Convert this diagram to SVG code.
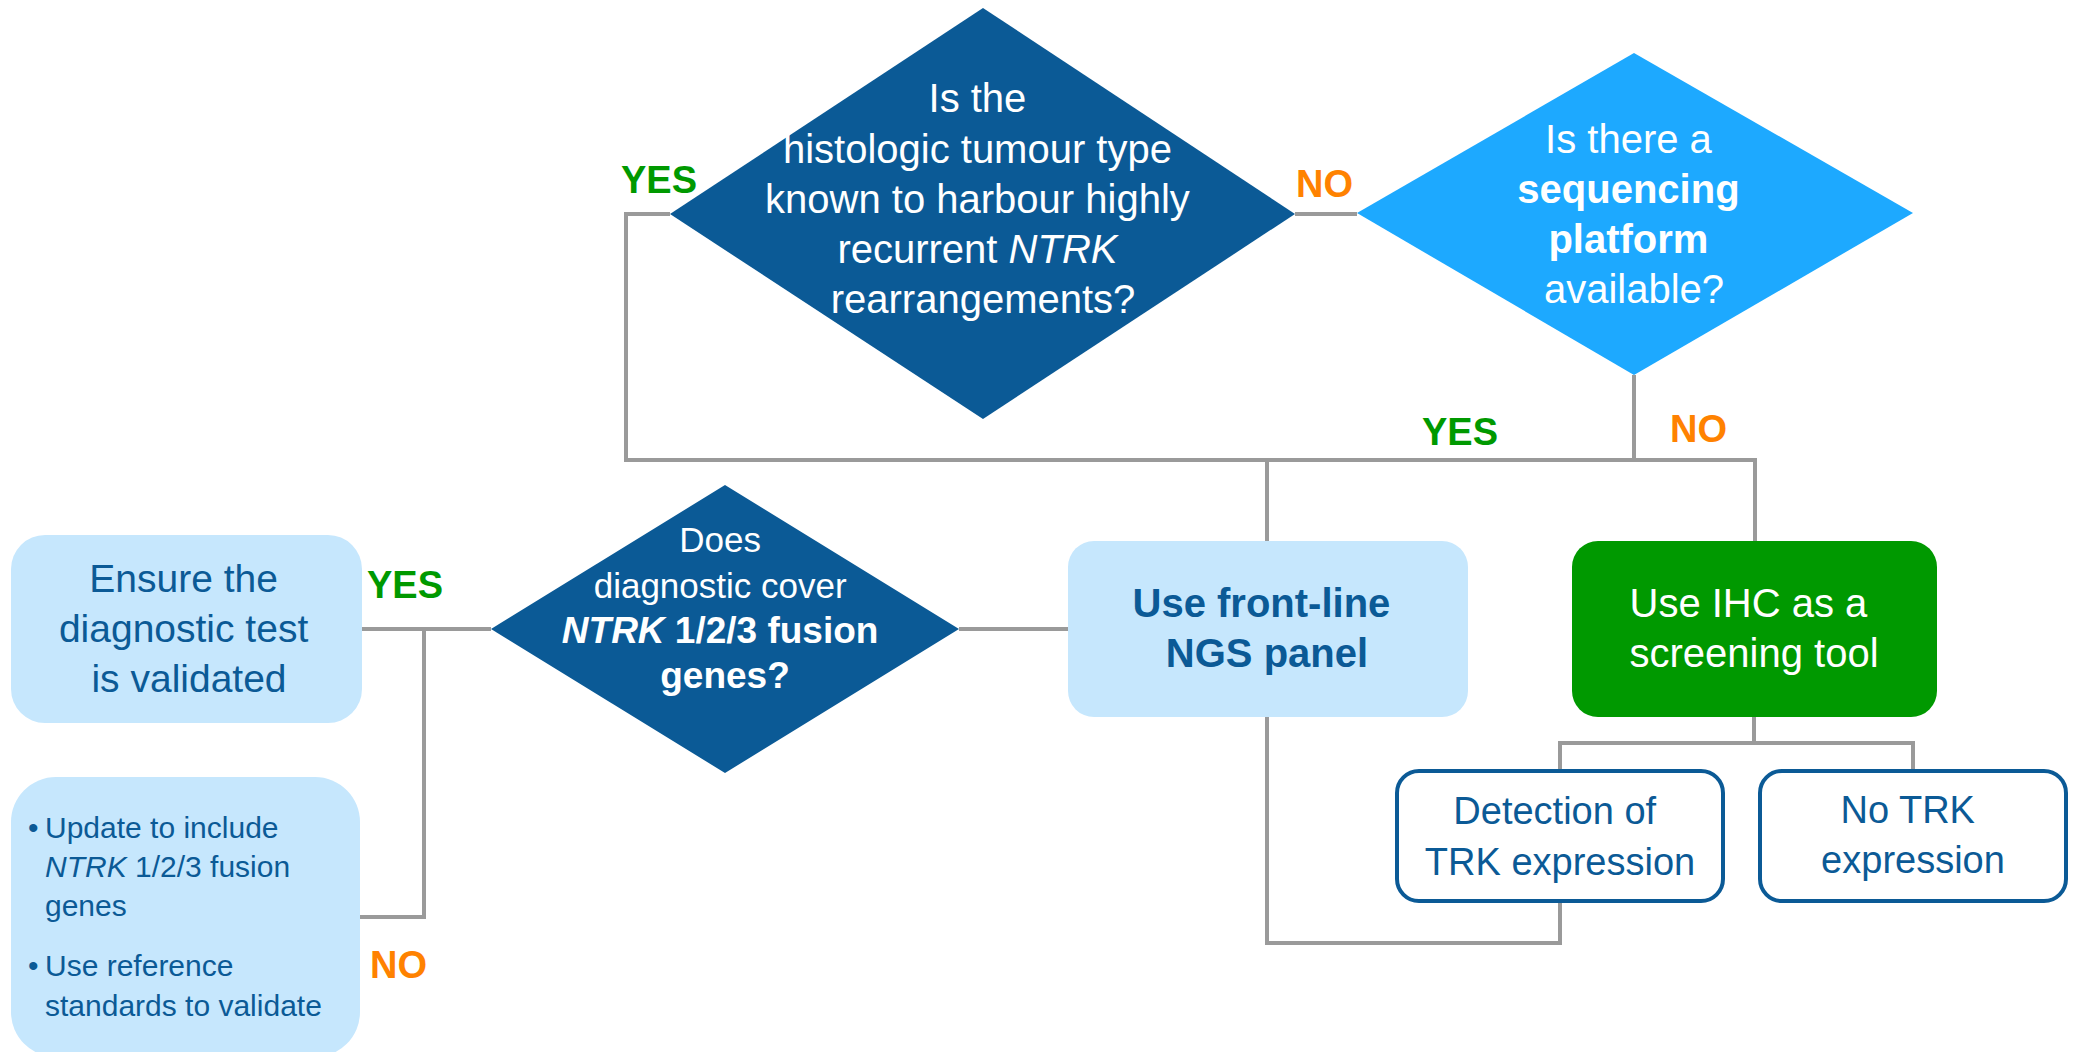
<svg xmlns="http://www.w3.org/2000/svg" width="2080" height="1052" viewBox="0 0 2080 1052">
<style>
.t{font-family:"Liberation Sans",Arial,sans-serif;}
.w{fill:#ffffff;}
.d{fill:#0B5A96;}
.b{font-weight:bold;}
.i{font-style:italic;}
.yes{font-family:"Liberation Sans",Arial,sans-serif;font-weight:bold;font-size:38px;fill:#009900;}
.no{font-family:"Liberation Sans",Arial,sans-serif;font-weight:bold;font-size:38px;fill:#FF8200;}
.ln{fill:none;stroke:#9A9A9A;stroke-width:4;}
</style>
<rect width="2080" height="1052" fill="#ffffff"/>
<g id="connectors" class="ln">
<path d="M670,214 H626 V460 H1634"/>
<path d="M1295,214 H1357"/>
<path d="M1634,375 V460 H1755 V541"/>
<path d="M1267,460 V541"/>
<path d="M491,629 H362"/>
<path d="M424,629 V917 H360"/>
<path d="M959,629 H1068"/>
<path d="M1754,717 V743"/>
<path d="M1560,770 V743 H1913 V769"/>
<path d="M1267,717 V943 H1560 V902"/>
</g>
<g id="labels">
<text class="yes" x="621" y="193">YES</text>
<text class="no" x="1296" y="197">NO</text>
<text class="yes" x="1422" y="445">YES</text>
<text class="no" x="1670" y="442">NO</text>
<text class="yes" x="367" y="598">YES</text>
<text class="no" x="370" y="978">NO</text>
</g>
<g id="q-histologic">
<polygon points="983,8 1295,214 983,419 670,214" fill="#0B5A96"/>
<text class="t w" font-size="40" text-anchor="middle">
<tspan x="983" y="112">Is the</tspan>
<tspan x="983" y="163">histologic tumour type</tspan>
<tspan x="983" y="213">known to harbour highly</tspan>
<tspan x="983" y="263">recurrent <tspan class="i">NTRK</tspan></tspan>
<tspan x="983" y="313">rearrangements?</tspan>
</text>
</g>
<g id="q-sequencing">
<polygon points="1634,53 1913,213 1634,375 1357,213" fill="#1DA9FF"/>
<text class="t w" font-size="40" text-anchor="middle">
<tspan x="1634" y="153">Is there a</tspan>
<tspan x="1634" y="203" class="b">sequencing</tspan>
<tspan x="1634" y="253" class="b">platform</tspan>
<tspan x="1634" y="303">available?</tspan>
</text>
</g>
<g id="q-diagnostic">
<polygon points="725,485 959,629 725,773 491,629" fill="#0B5A96"/>
<text class="t w" font-size="35" text-anchor="middle">
<tspan x="725" y="552">Does</tspan>
<tspan x="725" y="598">diagnostic cover</tspan>
<tspan x="725" y="643" class="b" font-size="37"><tspan class="i">NTRK</tspan> 1/2/3 fusion</tspan>
<tspan x="725" y="688" class="b" font-size="37">genes?</tspan>
</text>
</g>
<g id="ensure-validated">
<rect x="11" y="535" width="351" height="188" rx="34" fill="#C6E7FD"/>
<text class="t d" font-size="39" text-anchor="middle">
<tspan x="189" y="592">Ensure the</tspan>
<tspan x="189" y="642">diagnostic test</tspan>
<tspan x="189" y="692">is validated</tspan>
</text>
</g>
<g id="update-test">
<rect x="11" y="777" width="349" height="280" rx="45" fill="#C6E7FD"/>
<text class="t d" font-size="30">
<tspan x="28" y="838">•</tspan><tspan x="45" y="838">Update to include</tspan>
<tspan x="45" y="877" class="i">NTRK</tspan><tspan> 1/2/3 fusion</tspan>
<tspan x="45" y="916">genes</tspan>
<tspan x="28" y="976">•</tspan><tspan x="45" y="976">Use reference</tspan>
<tspan x="45" y="1016">standards to validate</tspan>
</text>
</g>
<g id="ngs-panel">
<rect x="1068" y="541" width="400" height="176" rx="26" fill="#C6E7FD"/>
<text class="t d b" font-size="40" text-anchor="middle">
<tspan x="1267" y="617">Use front-line</tspan>
<tspan x="1267" y="667">NGS panel</tspan>
</text>
</g>
<g id="ihc-screening">
<rect x="1572" y="541" width="365" height="176" rx="26" fill="#009900"/>
<text class="t w" font-size="40" text-anchor="middle">
<tspan x="1754" y="617">Use IHC as a</tspan>
<tspan x="1754" y="667">screening tool</tspan>
</text>
</g>
<g id="trk-detected">
<rect x="1397" y="771" width="326" height="130" rx="22" fill="#ffffff" stroke="#0B5A96" stroke-width="4"/>
<text class="t d" font-size="38" text-anchor="middle">
<tspan x="1560" y="824">Detection of</tspan>
<tspan x="1560" y="875">TRK expression</tspan>
</text>
</g>
<g id="no-trk">
<rect x="1760" y="771" width="306" height="130" rx="22" fill="#ffffff" stroke="#0B5A96" stroke-width="4"/>
<text class="t d" font-size="38" text-anchor="middle">
<tspan x="1913" y="823">No TRK</tspan>
<tspan x="1913" y="873">expression</tspan>
</text>
</g>
</svg>
